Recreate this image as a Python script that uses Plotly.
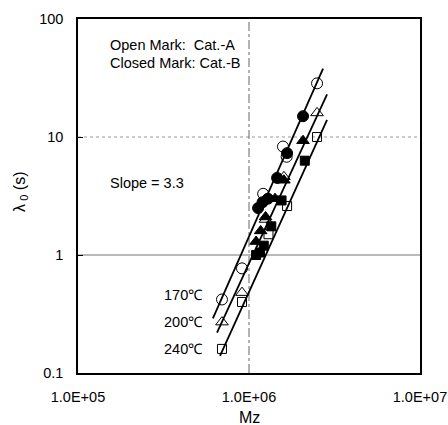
import plotly.graph_objects as go

# ---- data ----
# Cat.-A (open marks)
a170_M = [6.95e5, 9.1e5, 1.21e6, 1.58e6, 1.66e6, 2.5e6]
a170_L = [0.42, 0.77, 3.3, 8.3, 6.8, 28.5]
a200_M = [6.95e5, 9.1e5, 1.25e6, 1.6e6, 2.5e6]
a200_L = [0.27, 0.48, 2.0, 4.6, 16.0]
a240_M = [6.95e5, 9.1e5, 1.3e6, 1.67e6, 2.5e6]
a240_L = [0.16, 0.40, 1.5, 2.6, 10.0]
# Cat.-B (closed marks)
b170_M = [1.13e6, 1.2e6, 1.29e6, 1.46e6, 1.67e6, 2.07e6]
b170_L = [2.5, 2.8, 3.0, 4.5, 7.3, 15.0]
b200_M = [1.1e6, 1.17e6, 1.25e6, 1.42e6, 1.6e6, 2.07e6]
b200_L = [1.3, 1.6, 2.1, 3.0, 4.3, 9.3]
b240_M = [1.1e6, 1.16e6, 1.22e6, 1.35e6, 1.55e6, 2.12e6]
b240_L = [1.0, 1.05, 1.2, 1.75, 2.9, 6.3]
# fitted lines (slope ~3.3), end points
line170_M = [6.15e5, 2.71e6]
line170_L = [0.29, 38.0]
line200_M = [6.5e5, 2.86e6]
line200_L = [0.22, 23.0]
line240_M = [6.77e5, 2.86e6]
line240_L = [0.14, 14.0]

x_tickvals = [1e5, 1e6, 1e7]
x_ticktext = ["1.0E+05", "1.0E+06", "1.0E+07"]
y_tickvals = [0.1, 1, 10, 100]
y_ticktext = ["0.1", "1", "10", "100"]

fig = go.Figure()

for mx, ly in [(line170_M, line170_L), (line200_M, line200_L), (line240_M, line240_L)]:
    fig.add_trace(go.Scatter(x=mx, y=ly, mode="lines",
                             line=dict(color="black", width=1.8), showlegend=False))

def pts(mx, ly, sym, size):
    fig.add_trace(go.Scatter(x=mx, y=ly, mode="markers", showlegend=False,
                             marker=dict(symbol=sym, size=size, color="black",
                                         line=dict(color="black", width=1))))

pts(a170_M, a170_L, "circle-open", 11)
pts(a200_M, a200_L, "triangle-up-open", 11)
pts(a240_M, a240_L, "square-open", 9)
pts(b170_M, b170_L, "circle", 11)
pts(b200_M, b200_L, "triangle-up", 11)
pts(b240_M, b240_L, "square", 9)

# reference lines
fig.add_shape(type="line", xref="paper", yref="y", x0=0, x1=1, y0=10, y1=10,
              line=dict(color="#999999", width=1, dash="dot"), layer="below")
fig.add_shape(type="line", xref="paper", yref="y", x0=0, x1=1, y0=1, y1=1,
              line=dict(color="#777777", width=1), layer="below")
fig.add_shape(type="line", xref="x", yref="paper", x0=1e6, x1=1e6, y0=0, y1=1,
              line=dict(color="#666666", width=1, dash="dashdot"), layer="below")

FAM = "Liberation Sans, Arial, sans-serif"
font_main = dict(family=FAM, size=14.5, color="black")

def ann(text, x, y, xanchor="left", size=14.5, **kw):
    fig.add_annotation(text=text, xref="paper", yref="paper", x=x, y=y,
                       xanchor=xanchor, yanchor="middle", showarrow=False,
                       font=dict(family=FAM, size=size, color="black"), **kw)

ann("Open Mark:&nbsp;&nbsp;Cat.-A", 0.088, 0.927)
ann("Closed Mark: Cat.-B", 0.088, 0.876)
ann("Slope = 3.3", 0.088, 0.537)
ann("170℃", 0.372, 0.220, "right")
ann("200℃", 0.372, 0.144, "right")
ann("240℃", 0.372, 0.068, "right")
# axis titles
ann("Mz", 0.5, -0.127, "center", size=16)
ann("λ<sub> 0</sub> (s)", -0.170, 0.511, "center", size=16, textangle=-90)

fig.update_layout(
    width=448, height=425,
    margin=dict(l=78, r=28, t=19, b=52),
    paper_bgcolor="white", plot_bgcolor="white",
    font=font_main,
    showlegend=False,
    xaxis=dict(type="log", range=[5, 7], tickvals=x_tickvals, ticktext=x_ticktext,
               showgrid=False, zeroline=False, showline=True, linecolor="black",
               linewidth=1.5, mirror=True, ticks="", ticklabelstandoff=10,
               automargin=False),
    yaxis=dict(type="log", range=[-1, 2], tickvals=y_tickvals, ticktext=y_ticktext,
               showgrid=False, zeroline=False, showline=True, linecolor="black",
               linewidth=1.5, mirror=True, ticks="inside", ticklen=5, tickcolor="black",
               ticklabelstandoff=10, automargin=False),
)

fig.write_html("out.html")
